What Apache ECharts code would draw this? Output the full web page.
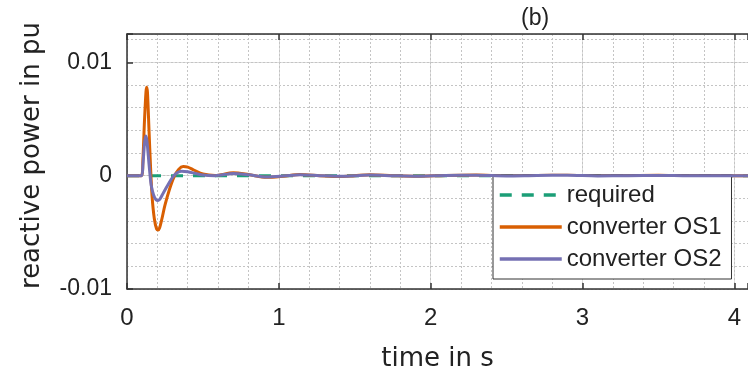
<!DOCTYPE html>
<html>
<head>
<meta charset="utf-8">
<script src="https://cdn.jsdelivr.net/npm/echarts@6/dist/echarts.min.js"></script>
<style>
  html, body { margin: 0; padding: 0; background: #fff; }
  #chart { width: 748px; height: 377px; }
</style>
</head>
<body>
<div id="chart"></div>
<script>
// time in s / reactive power in pu
const tRequired = [0, 4.09];
const qRequired = [0, 0];

const tOS1 = [0, 0.095, 0.105, 0.115, 0.125, 0.13, 0.135, 0.145, 0.155, 0.165, 0.18, 0.195, 0.205, 0.215, 0.23, 0.25, 0.28, 0.31, 0.34, 0.37, 0.4, 0.44, 0.5, 0.58, 0.7, 0.8, 0.92, 1.03, 1.14, 1.27, 1.4, 1.5, 1.6, 1.75, 1.9, 2.1, 2.3, 2.5, 2.7, 2.9, 3.1, 3.3, 3.5, 3.7, 3.9, 4.09];
const qOS1 = [0, 0, 0.0015, 0.0048, 0.0074, 0.0078, 0.0073, 0.004, 0.0008, -0.0018, -0.0038, -0.0047, -0.0048, -0.0046, -0.0038, -0.0026, -0.0012, -0.0001, 0.00055, 0.0008, 0.00075, 0.0005, 0.00015, 0.00002, 0.00025, 0.0001, -0.00015, -0.00005, 0.0001, 0, -0.00008, 0, 0.00008, 0, -0.00006, 0.00002, 0.00005, -0.00003, 0.00002, 0.00004, -0.00002, 0, 0.00003, -0.00001, 0, 0];

const tOS2 = [0, 0.095, 0.105, 0.115, 0.123, 0.13, 0.14, 0.15, 0.16, 0.175, 0.19, 0.205, 0.22, 0.24, 0.27, 0.3, 0.33, 0.36, 0.4, 0.45, 0.5, 0.58, 0.7, 0.8, 0.92, 1.03, 1.14, 1.27, 1.4, 1.5, 1.6, 1.75, 1.9, 2.1, 2.3, 2.5, 2.7, 2.9, 3.1, 3.3, 3.5, 3.7, 3.9, 4.09];
const qOS2 = [0, 0, 0.001, 0.0028, 0.0035, 0.0032, 0.0018, 0.0003, -0.0009, -0.0017, -0.0021, -0.0022, -0.002, -0.0015, -0.0008, -0.00015, 0.00025, 0.0004, 0.00035, 0.0002, 0.00005, 0, 0.0002, 0.00008, -0.00012, -0.00004, 0.00008, 0, -0.00006, 0, 0.00006, 0, -0.00005, 0.00002, 0.00004, -0.00002, 0.00002, 0.00003, -0.00002, 0, 0.00002, -0.00001, 0, 0];

const xTicks = [0, 1, 2, 3, 4];
const yTicks = [-0.01, 0, 0.01];

const pairs = (xs, ys) => xs.map((x, i) => [x, ys[i]]);

const FONT = 'Liberation Sans, Arial, Helvetica, sans-serif';
const NAME_FONT = 'DejaVu Sans, Liberation Sans, sans-serif';
const AXIS = '#333';
const MAJOR = '#dcdcdc';
const MINOR = '#c4c4c4';

const chart = echarts.init(document.getElementById('chart'));
chart.setOption({
  animation: false,
  backgroundColor: '#fff',
  textStyle: { fontFamily: FONT },
  title: {
    text: '(b)',
    left: 516,
    top: 2,
    textStyle: { fontFamily: FONT, fontSize: 23, fontWeight: 'normal', color: '#222' }
  },
  grid: { left: 127, right: -1, top: 34, bottom: 84 },
  legend: {
    orient: 'vertical',
    left: 493,
    top: 175,
    padding: [8, 10, 8, 5],
    itemGap: 8,
    itemWidth: 62,
    itemHeight: 4,
    backgroundColor: '#fff',
    borderColor: '#333',
    borderWidth: 1,
    borderRadius: 0,
    itemStyle: { color: 'transparent', borderWidth: 0 },
    lineStyle: { width: 3.5 },
    textStyle: { fontFamily: FONT, fontSize: 24, color: '#222' },
    data: ['required', 'converter OS1', 'converter OS2']
  },
  xAxis: [
    {
      type: 'value', position: 'bottom', min: 0, max: 4.09, interval: 1,
      name: 'time in s', nameLocation: 'middle', nameGap: 57,
      nameTextStyle: { fontFamily: NAME_FONT, fontSize: 26, color: '#222' },
      axisLine: { show: true, onZero: false, lineStyle: { color: AXIS, width: 1.5 } },
      axisTick: { show: true, inside: true, length: 6, lineStyle: { color: AXIS, width: 1.5 } },
      axisLabel: {
        fontFamily: FONT, fontSize: 24, color: '#222', margin: 17,
        customValues: xTicks
      },
      splitLine: { show: true, lineStyle: { color: MAJOR, width: 1 } }
    },
    {
      type: 'value', position: 'top', min: 0, max: 4.09, interval: 1,
      axisLine: { show: true, onZero: false, lineStyle: { color: AXIS, width: 1.5 } },
      axisTick: { show: true, inside: true, length: 6, lineStyle: { color: AXIS, width: 1.5 } },
      axisLabel: { show: false },
      splitLine: { show: false }
    },
    {
      type: 'value', position: 'bottom', min: 0, max: 4.09, interval: 0.2,
      axisLine: { show: false, onZero: false }, axisTick: { show: false }, axisLabel: { show: false },
      splitLine: { show: true, lineStyle: { color: MINOR, width: 1, type: [2, 2] } }
    }
  ],
  yAxis: [
    {
      type: 'value', position: 'left', min: -0.01, max: 0.0125, interval: 0.01,
      name: 'reactive power in pu', nameLocation: 'middle', nameGap: 82, nameRotate: 90,
      nameTextStyle: { fontFamily: NAME_FONT, fontSize: 26, color: '#222', padding: [0, 0, 0, 12] },
      axisLine: { show: true, onZero: false, lineStyle: { color: AXIS, width: 1.5 } },
      axisTick: { show: true, inside: true, length: 6, lineStyle: { color: AXIS, width: 1.5 } },
      axisLabel: {
        fontFamily: FONT, fontSize: 23, color: '#222', margin: 15,
        customValues: yTicks,
        formatter: v => (Math.abs(v) < 1e-9 ? '0' : String(+v.toFixed(3)))
      },
      splitLine: { show: true, lineStyle: { color: MAJOR, width: 1 } }
    },
    {
      type: 'value', position: 'left', min: -0.01, max: 0.0125, interval: 0.002,
      axisLine: { show: false, onZero: false }, axisTick: { show: false }, axisLabel: { show: false },
      splitLine: { show: true, lineStyle: { color: MINOR, width: 1, type: [2, 2] } }
    }
  ],
  series: [
    {
      name: 'required', type: 'line', xAxisIndex: 0, yAxisIndex: 0,
      data: pairs(tRequired, qRequired),
      symbol: 'none', color: '#1b9e77',
      lineStyle: { color: '#1b9e77', width: 3, type: [12, 10] },
      z: 2
    },
    {
      name: 'converter OS1', type: 'line', xAxisIndex: 0, yAxisIndex: 0,
      data: pairs(tOS1, qOS1),
      symbol: 'none', smooth: 0.3, color: '#d95f02',
      lineStyle: { color: '#d95f02', width: 3 },
      z: 3
    },
    {
      name: 'converter OS2', type: 'line', xAxisIndex: 0, yAxisIndex: 0,
      data: pairs(tOS2, qOS2),
      symbol: 'none', smooth: 0.3, color: '#7570b3',
      lineStyle: { color: '#7570b3', width: 3 },
      z: 4
    }
  ]
});
</script>
</body>
</html>
